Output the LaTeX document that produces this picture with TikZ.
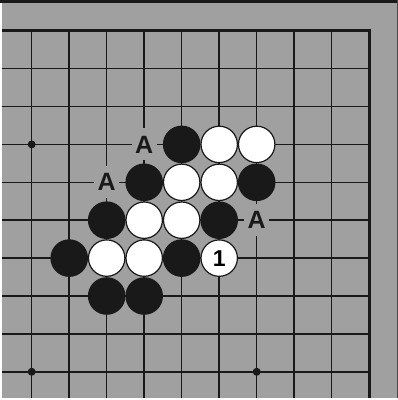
\documentclass[tikz,border=0pt]{standalone}
\usepackage{fontspec}
\setmainfont{Liberation Sans}
\definecolor{boardgray}{RGB}{160,160,160}
\definecolor{ink}{RGB}{25,25,25}
\begin{document}
\begin{tikzpicture}[x=1pt,y=-1pt,
  gridline/.style={draw=ink,line width=1.5pt},
  edgeline/.style={draw=ink,line width=2.6pt},
  blackstone/.style={circle,fill=ink,minimum size=37.6pt,inner sep=0pt},
  whitestone/.style={circle,fill=white,draw=ink,line width=1.2pt,minimum size=36.4pt,inner sep=0pt,font=\bfseries\fontsize{23pt}{23pt}\selectfont},
  marklabel/.style={fill=boardgray,inner sep=0pt,minimum width=25pt,minimum height=32pt,text=ink,font=\bfseries\fontsize{25pt}{25pt}\selectfont},
  starpoint/.style={circle,fill=ink,minimum size=8pt,inner sep=0pt}]
\useasboundingbox (0,0) rectangle (398,400);
\fill[white] (0,0) rectangle (398,400);
\fill[boardgray] (2,0) rectangle (398,398);
\fill[ink] (0,0) rectangle (398,2.6);
\fill[ink!80] (396.8,0) rectangle (398,398);
% grid
\foreach \i in {0,...,8} {
  \pgfmathsetmacro{\xx}{31.7+37.5*\i}
  \draw[gridline] (\xx,30.7) -- (\xx,398);
}
\foreach \j in {1,...,9} {
  \pgfmathsetmacro{\yy}{30.7+37.9*\j}
  \draw[gridline] (2,\yy) -- (369.2,\yy);
}
\draw[edgeline] (2,30.7) -- (369.2,30.7) -- (369.2,398);
% star points
\node[starpoint] (s1) at (31.7,144.4) {};
\node[starpoint] (s2) at (31.7,371.8) {};
\node[starpoint] (s3) at (256.7,371.8) {};
% A labels
\node[marklabel] (a1) at (144.2,144.4) {A};
\node[marklabel] (a2) at (106.7,182.3) {A};
\node[marklabel] (a3) at (256.7,220.2) {A};
% stones: row 3
\node[blackstone] (b34) at (181.7,144.4) {};
\node[whitestone] (w35) at (219.2,144.4) {};
\node[whitestone] (w36) at (256.7,144.4) {};
% row 4
\node[blackstone] (b43) at (144.2,182.3) {};
\node[whitestone] (w44) at (181.7,182.3) {};
\node[whitestone] (w45) at (219.2,182.3) {};
\node[blackstone] (b46) at (256.7,182.3) {};
% row 5
\node[blackstone] (b52) at (106.7,220.2) {};
\node[whitestone] (w53) at (144.2,220.2) {};
\node[whitestone] (w54) at (181.7,220.2) {};
\node[blackstone] (b55) at (219.2,220.2) {};
% row 6
\node[blackstone] (b61) at (69.2,258.1) {};
\node[whitestone] (w62) at (106.7,258.1) {};
\node[whitestone] (w63) at (144.2,258.1) {};
\node[blackstone] (b64) at (181.7,258.1) {};
\node[whitestone] (w65) at (219.2,258.1) {1};
% row 7
\node[blackstone] (b72) at (106.7,296.0) {};
\node[blackstone] (b73) at (144.2,296.0) {};
\end{tikzpicture}
\end{document}
